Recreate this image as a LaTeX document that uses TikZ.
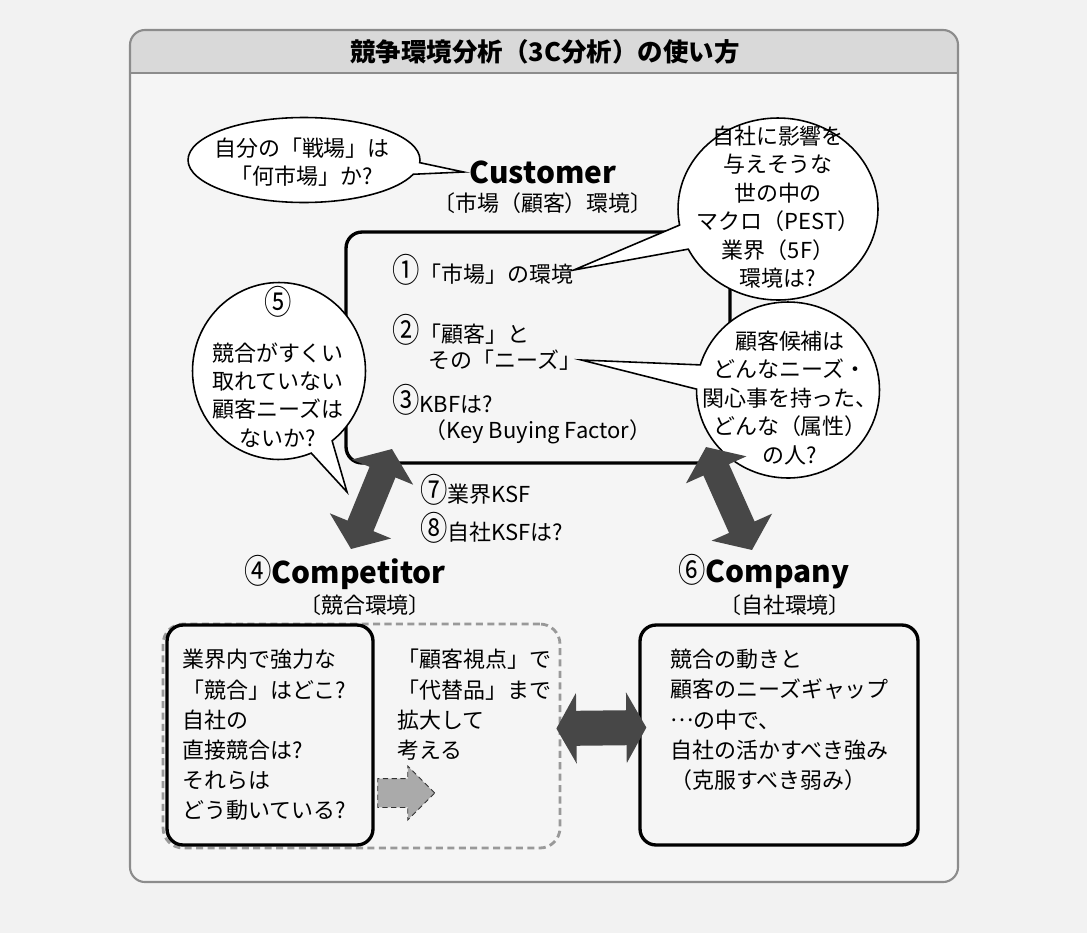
\documentclass[tikz,border=0pt]{standalone}
\usepackage{graphicx}
\usepackage{fontspec}
\setmainfont{Noto Sans CJK JP}
\usetikzlibrary{arrows.meta,positioning,shapes.callouts,shapes.arrows,backgrounds}

\newcommand\jpfont{\fontsize{12.5}{16.2}\selectfont}
\newcommand\boxfont{\fontsize{12.5}{17.2}\selectfont}
\newcommand\titlefont{\fontsize{14.5}{16}\selectfont\bfseries}
\newcommand\lblfont{\fontsize{17}{20}\selectfont\bfseries}
\newcommand\cnum[1]{{\fontsize{19}{19}\selectfont\mdseries\scalebox{0.82}[1]{#1}}}

\tikzset{
    bubble/.style={ellipse callout, draw=black, line width=0.9pt, fill=white, inner sep=0pt, callout pointer arc=16},
    bubtext/.style={align=center, font=\jpfont, inner sep=0pt},
    mainbox/.style={draw=black, line width=1.9pt, rounded corners=0.32cm, fill=gray!8, inner sep=0pt},
    subbox/.style={draw=gray!80, line width=1.6pt, dash pattern=on 4pt off 2.5pt, rounded corners=0.4cm, inner sep=0pt},
    boxtext/.style={anchor=north west, align=left, font=\boxfont, inner sep=0pt},
    itemtext/.style={anchor=west, font=\jpfont, inner sep=0pt},
    bigarrow/.style={draw=black!72, line width=0.56cm, {Triangle[width=1.3cm,length=0.5cm]}-{Triangle[width=1.3cm,length=0.5cm]}},
}

\begin{document}
\begin{tikzpicture}[x=0.02cm, y=-0.02cm]
                \useasboundingbox (0,0) rectangle (1087,933);
                \fill[gray!10] (0,0) rectangle (1087,933);

                \fill[gray!8, rounded corners=0.3cm] (130,30) rectangle (958,882);
                \fill[gray!30, rounded corners=0.3cm] (130,73) -- (130,30) -- (958,30) [sharp corners] -- (958,73) -- cycle;
                \draw[gray!90, line width=1.2pt] (130,73) -- (958,73);
                \draw[gray!90, line width=1.2pt, rounded corners=0.3cm] (130,30) rectangle (958,882);
                \node[font=\titlefont] (title) at (545,52) {競争環境分析（3C分析）の使い方};

                \node[mainbox, minimum width=7.68cm, minimum height=4.62cm] (cust) at (538,347.5) {};
                \node[itemtext] (item1) at (392,270) {\cnum{①}「市場」の環境};
                \node[itemtext] (item2) at (392,330) {\cnum{②}「顧客」と};
                \node[itemtext] (item2b) at (428,360) {その「ニーズ」};
                \node[itemtext] (item3) at (392,400) {\cnum{③}KBFは?};
                \node[itemtext] (item3b) at (424,432) {（Key Buying Factor）};

                \node[font=\lblfont] (custlbl) at (543,172) {Customer};
                \node[font=\jpfont] (custenv) at (543,203) {〔市場（顧客）環境〕};

                \node[bubble, minimum width=4.64cm, minimum height=1.7cm, callout absolute pointer={(custlbl.west)}] (bub1) at (304,160) {};
                \node[bubtext] (bub1t) at (302,162) {自分の「戦場」は\\「何市場」か?};

                \node[bubble, minimum width=4cm, minimum height=3.64cm, callout absolute pointer={(item1.east)}] (bub2) at (778,209) {};
                \node[bubtext] (bub2t) at (778,207) {自社に影響を\\与えそうな\\世の中の\\マクロ（PEST）\\業界（5F）\\環境は?};

                \node[bubble, minimum width=3.66cm, minimum height=3.52cm, callout absolute pointer={(item2b.east)}] (bub3) at (788,390) {};
                \node[bubtext] (bub3t) at (790,398) {顧客候補は\\どんなニーズ・\\関心事を持った、\\どんな（属性）\\の人?};

                \coordinate (tip5) at (347,492);
                \node[bubble, minimum width=3.46cm, minimum height=3.54cm, callout absolute pointer={(tip5)}] (bub5) at (279,371) {};
                \node[bubtext] (bub5n) at (278,302) {\cnum{⑤}};
                \node[bubtext] (bub5t) at (278,395) {競合がすくい\\取れていない\\顧客ニーズは\\ないか?};

                \coordinate (la1) at (392,449);
                \coordinate (la2) at (351,549);
                \coordinate (ra1) at (706,447);
                \coordinate (ra2) at (752,550);
                \draw[bigarrow] (la1) -- (la2);
                \draw[bigarrow] (ra1) -- (ra2);

                \node[itemtext] (ksf7) at (420,490) {\cnum{⑦}業界KSF};
                \node[itemtext] (ksf8) at (420,528) {\cnum{⑧}自社KSFは?};

                \node[font=\lblfont] (complbl) at (345,572) {\cnum{④}Competitor};
                \node[font=\jpfont] (compenv) at (365,605) {〔競合環境〕};
                \node[font=\lblfont] (colbl) at (764,572) {\cnum{⑥}Company};
                \node[font=\jpfont] (coenv) at (785,605) {〔自社環境〕};

                \node[subbox, minimum width=7.94cm, minimum height=4.48cm] (sub) at (361.5,736) {};
                \node[mainbox, minimum width=4.12cm, minimum height=4.4cm] (compbox) at (270,735) {};
                \node[boxtext] (comptxt) at (182,649) {業界内で強力な\\「競合」はどこ?\\自社の\\直接競合は?\\それらは\\どう動いている?};
                \node[boxtext] (subtxt) at (397,649) {「顧客視点」で\\「代替品」まで\\拡大して\\考える};
                \node[single arrow, draw=black!80, densely dashed, line width=0.5pt, fill=gray!67, minimum height=1.14cm, inner xsep=0pt, inner ysep=0.28cm, single arrow head extend=0.25cm] (subarr) at (399,793) {};

                \node[mainbox, minimum width=5.56cm, minimum height=4.4cm] (cobox) at (779,735) {};
                \node[boxtext] (cotxt) at (670,649) {競合の動きと\\顧客のニーズギャップ\\\raisebox{0.3em}{…}の中で、\\自社の活かすべき強み\\（克服すべき弱み）};

                \draw[draw=black!72, line width=0.7cm, {Triangle[width=1.4cm,length=0.4cm]}-{Triangle[width=1.4cm,length=0.4cm]}] ([xshift=-0.1cm, yshift=0.15cm]sub.east) -- ([xshift=0.16cm, yshift=0.15cm]cobox.west);
            \end{tikzpicture}
\end{document}
